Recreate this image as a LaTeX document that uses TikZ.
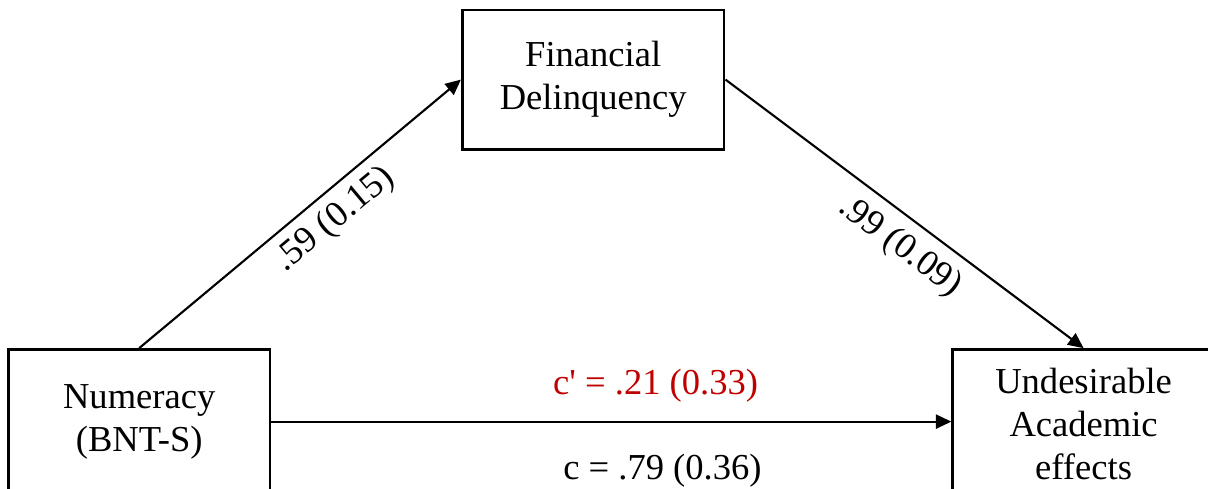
\documentclass[tikz,border=0pt]{standalone}
\usepackage{fontspec}
\setmainfont{Liberation Serif}
\usepackage{tikz}
\usetikzlibrary{arrows.meta,positioning}
\definecolor{ink}{HTML}{000000}
\definecolor{darkRed}{HTML}{C00000}

\begin{document}
\begin{tikzpicture}[>={Triangle[length=11pt,width=10pt]},
  font=\fontsize{26}{30.8}\selectfont,
  varbox/.style={draw=ink,line width=2.1pt,align=center,minimum width=6.54cm,minimum height=3.48cm},
  effect/.style={->,ink,line width=1.5pt},
  coef/.style={inner sep=0pt}]
  \clip (0,0) rectangle (30.2,-12.2);
  \node[varbox] (fd) at (14.83,-1.99) {Financial\\Delinquency};
  \node[varbox,minimum height=3.6cm] (num) at (3.48,-10.54) {Numeracy\\(BNT-S)};
  \node[varbox,minimum height=3.72cm] (ua) at (27.09,-10.60) {Undesirable\\Academic\\effects};
  \draw[effect] (num.north) -- (fd.west)
    node[coef,pos=0.555,sloped,below=6.5pt] {.59 (0.15)};
  \draw[effect] (fd.east) -- (ua.north)
    node[coef,pos=0.536,sloped,below=8pt] {.99 (0.09)};
  \draw[effect] (num.east) -- (num.east -| ua.west)
    node[coef,darkRed,pos=0.565,above=13pt] {c\textquotesingle{} = .21 (0.33)}
    node[coef,pos=0.575,below=22.5pt] {c = .79 (0.36)};
\end{tikzpicture}
\end{document}
